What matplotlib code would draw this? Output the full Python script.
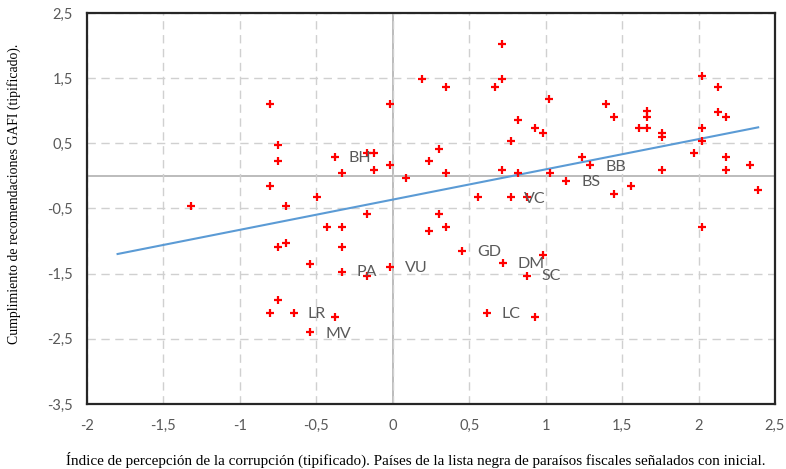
import numpy as np
import matplotlib
matplotlib.use("Agg")
import matplotlib.pyplot as plt

# indice de percepcion de la corrupcion (tipificado)
x = [-0.80, -0.75, -0.75, -0.80, -0.495, 0.715, 0.19, 0.715, 0.345, 0.67,
     -0.02, 1.02, 0.82, 0.93, 0.98, 0.77, 0.30, -0.17, -0.12, -0.38,
     0.24, -0.02, -0.33, -0.12, 0.345, 0.715, 0.82, 1.03, 0.087, 0.56,
     0.77, 0.875, 2.02, 2.13, 1.395, 1.45, 1.66, 1.66, 2.13, 2.18,
     1.61, 1.66, 1.76, 1.76, 2.02, 2.02, 1.97, 1.24, 1.29, 2.18,
     2.335, 1.76, 2.18, 1.135, 1.555, 1.45, 2.39, -1.32, -0.70, -0.75,
     -0.70, -0.54, -0.75, -0.80, -0.645, -0.54, -0.17, 0.30, -0.43, -0.33,
     0.24, 0.345, -0.33, 0.45, 0.98, 0.72, -0.33, -0.17, -0.02, 0.875,
     -0.38, 0.615, 0.93, 2.02]
# cumplimiento de recomendaciones GAFI (tipificado)
y = [1.10, 0.47, 0.23, -0.15, -0.33, 2.03, 1.48, 1.48, 1.36, 1.36,
     1.10, 1.18, 0.86, 0.73, 0.66, 0.54, 0.41, 0.35, 0.35, 0.29,
     0.23, 0.16, 0.04, 0.09, 0.04, 0.09, 0.04, 0.04, -0.03, -0.33,
     -0.33, -0.33, 1.53, 1.36, 1.10, 0.91, 0.99, 0.91, 0.98, 0.91,
     0.73, 0.73, 0.66, 0.60, 0.73, 0.54, 0.35, 0.29, 0.16, 0.29,
     0.16, 0.09, 0.09, -0.08, -0.15, -0.27, -0.22, -0.46, -0.46, -1.09,
     -1.03, -1.35, -1.90, -2.10, -2.10, -2.40, -0.58, -0.58, -0.78, -0.78,
     -0.84, -0.78, -1.09, -1.15, -1.21, -1.34, -1.47, -1.53, -1.40, -1.53,
     -2.16, -2.10, -2.16, -0.78]

# paises de la lista negra: etiqueta y posicion del texto
etiquetas = ["BH", "BB", "BS", "VC", "GD", "DM", "SC", "PA", "VU", "LR", "MV", "LC"]
etq_x = [-0.29, 1.39, 1.235, 0.86, 0.55, 0.815, 0.97, -0.235, 0.078, -0.555, -0.44, 0.71]
etq_y = [0.28, 0.14, -0.10, -0.35, -1.16, -1.35, -1.54, -1.47, -1.42, -2.12, -2.42, -2.12]

tendencia_x = [-1.80, 2.39]

fig = plt.figure(figsize=(7.86, 4.69), dpi=100)
ax = fig.add_axes([87 / 786, 1 - 404 / 469, 688 / 786, 391 / 469])

ax.set_xlim(-2, 2.5)
ax.set_ylim(-3.5, 2.5)
ax.set_xticks(np.arange(-2, 2.51, 0.5))
ax.set_yticks(np.arange(-3.5, 2.51, 1.0))

ax.grid(True, color="#d0d0d0", linestyle=(0, (6, 4)), linewidth=1)
ax.axhline(0, color="#b0b0b0", linewidth=1.2, zorder=1)
ax.axvline(0, color="#b0b0b0", linewidth=1.2, zorder=1)

ax.scatter(x, y, marker="+", s=36, color="#ff0000", linewidths=1.6, zorder=3)

pend, ordo = np.polyfit(x, y, 1)
tx = np.array(tendencia_x)
ax.plot(tx, pend * tx + ordo, color="#5b9bd5", linewidth=1.5, zorder=2)

for t, ex, ey in zip(etiquetas, etq_x, etq_y):
    ax.text(ex, ey, t, fontsize=11.5, color="#595959", family="Lato",
            va="center", ha="left", zorder=4)

def coma(v):
    s = ("%g" % v).replace(".", ",")
    return s

ax.set_xticklabels([coma(v) for v in ax.get_xticks()])
ax.set_yticklabels([coma(v) for v in ax.get_yticks()])
ax.tick_params(length=0, labelsize=10.5, labelcolor="#595959")
ax.tick_params(axis="x", pad=11)
ax.tick_params(axis="y", pad=10)
for lab in ax.get_xticklabels() + ax.get_yticklabels():
    lab.set_family("Lato")

for sp in ax.spines.values():
    sp.set_color("#262626")
    sp.set_linewidth(1.6)

fig.text(416 / 786, 1 - 460 / 469, "Índice de percepción de la corrupción (tipificado). Países de la lista negra de paraísos fiscales señalados con inicial.",
         ha="center", va="center", fontsize=10.9, family="Liberation Serif")
fig.text(14 / 786, 1 - 194 / 469, "Cumplimiento de recomendaciones GAFI (tipificado).",
         ha="center", va="center", rotation=90, fontsize=9.9, family="Liberation Serif")

fig.savefig("out.png", dpi=100)
